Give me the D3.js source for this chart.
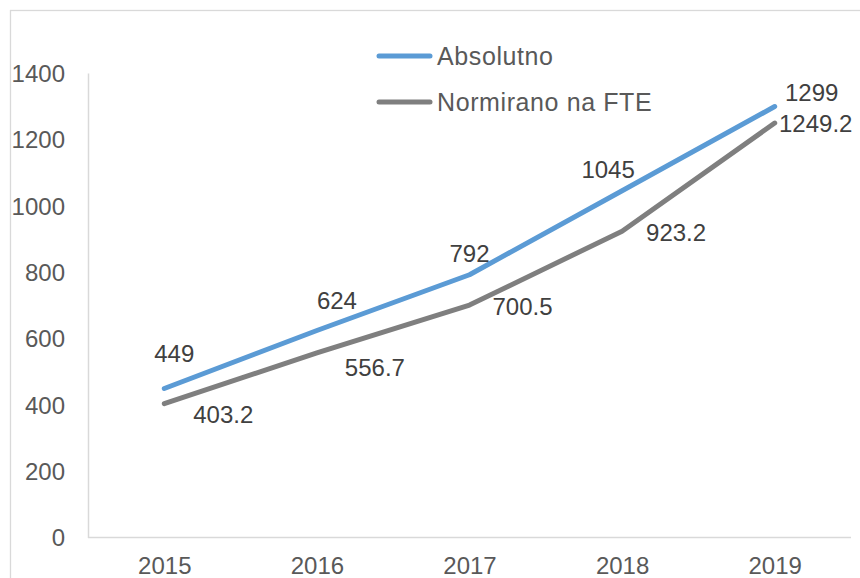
<!DOCTYPE html>
<html>
<head>
<meta charset="utf-8">
<script src="https://cdn.jsdelivr.net/npm/d3@7"></script>
<style>
  html, body { margin: 0; padding: 0; background: #fff; }
  svg { display: block; font-family: "Liberation Sans", Arial, sans-serif; }
</style>
</head>
<body>
<svg id="chart" width="860" height="578"></svg>
<script>
// ---- data ----
const years = ["2015", "2016", "2017", "2018", "2019"];
const absolutno = [449, 624, 792, 1045, 1299];
const normirano = [403.2, 556.7, 700.5, 923.2, 1249.2];
const seriesNames = ["Absolutno", "Normirano na FTE"];
const yTicks = [0, 200, 400, 600, 800, 1000, 1200, 1400];

// label placement offsets (center of label relative to point)
const absLabelDx = [10, 20, 0, -14, 37];
const absLabelDy = [-35, -30, -21, -21, -14];
const normLabelDx = [59, 58, 53, 54, 41];
const normLabelDy = [11, 15, 2, 1, 1];

const colors = ["#5B9BD5", "#7F7F7F"];

const svg = d3.select("#chart");
const W = 860, H = 578;
const plotLeft = 88, plotRight = 851, plotTop = 73, plotBottom = 537.5;

// outer chart border
svg.append("rect")
  .attr("x", 10.5).attr("y", 10.5)
  .attr("width", W + 20).attr("height", H + 20)
  .attr("fill", "none").attr("stroke", "#D9D9D9").attr("stroke-width", 1.3);

const x = d3.scalePoint().domain(years).range([plotLeft, plotRight]).padding(0.5);
const y = d3.scaleLinear().domain([0, 1400]).range([plotBottom, plotTop]);

// y axis
const yAxis = svg.append("g").attr("transform", `translate(${plotLeft},0)`)
  .call(d3.axisLeft(y).tickValues(yTicks).tickSize(0).tickPadding(23).tickFormat(d3.format("d")));
yAxis.select(".domain").attr("stroke", "#D9D9D9").attr("stroke-width", 1.5);
yAxis.selectAll("text").attr("font-size", 24).attr("fill", "#595959")
  .attr("font-family", "Liberation Sans, Arial, sans-serif").attr("dy", "0.35em");

// x axis
const xAxis = svg.append("g").attr("transform", `translate(0,${plotBottom})`)
  .call(d3.axisBottom(x).tickSize(0).tickPadding(19));
xAxis.select(".domain").attr("stroke", "#D9D9D9").attr("stroke-width", 1.5)
  .attr("d", `M${plotLeft},0H${plotRight}`);
xAxis.selectAll("text").attr("font-size", 24).attr("fill", "#595959")
  .attr("font-family", "Liberation Sans, Arial, sans-serif");

// lines
const line = d3.line().x((d, i) => x(years[i])).y(d => y(d));
const seriesData = [absolutno, normirano];
svg.selectAll("path.series").data(seriesData).enter().append("path")
  .attr("class", "series")
  .attr("d", d => line(d))
  .attr("fill", "none")
  .attr("stroke", (d, i) => colors[i])
  .attr("stroke-width", 5)
  .attr("stroke-linecap", "round")
  .attr("stroke-linejoin", "round");

// data labels
const labelFmt = v => String(v);
function addLabels(vals, dxs, dys) {
  svg.append("g").selectAll("text").data(vals).enter().append("text")
    .attr("x", (d, i) => x(years[i]) + dxs[i])
    .attr("y", (d, i) => y(d) + dys[i])
    .attr("dy", "0.35em")
    .attr("text-anchor", "middle")
    .attr("font-size", 24)
    .attr("fill", "#404040")
    .text(labelFmt);
}
addLabels(absolutno, absLabelDx, absLabelDy);
addLabels(normirano, normLabelDx, normLabelDy);

// legend
const legend = svg.append("g");
const legY = [56, 102];
seriesNames.forEach((name, i) => {
  legend.append("line")
    .attr("x1", 379).attr("x2", 430)
    .attr("y1", legY[i]).attr("y2", legY[i])
    .attr("stroke", colors[i]).attr("stroke-width", 5).attr("stroke-linecap", "round");
  legend.append("text")
    .attr("x", 437).attr("y", legY[i]).attr("dy", "0.35em")
    .attr("font-size", 25).attr("letter-spacing", 0.6)
    .attr("fill", "#595959")
    .text(name);
});
</script>
</body>
</html>
